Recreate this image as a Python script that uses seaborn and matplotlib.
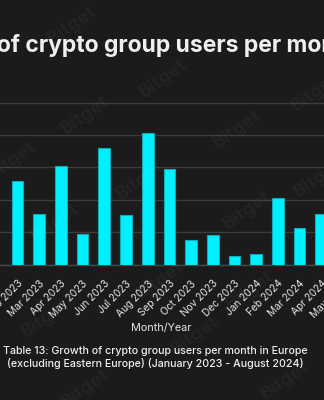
import matplotlib
matplotlib.use("Agg")
import matplotlib.pyplot as plt
import seaborn as sns
import pandas as pd

# Monthly growth of crypto group users (Europe, excl. Eastern Europe)
months = ["Feb 2023", "Mar 2023", "Apr 2023", "May 2023", "Jun 2023",
          "Jul 2023", "Aug 2023", "Sep 2023", "Oct 2023", "Nov 2023",
          "Dec 2023", "Jan 2024", "Feb 2024", "Mar 2024", "Apr 2024",
          "May 2024"]
users = [1296, 782, 1517, 468, 1801, 761, 2032, 1481, 381, 458,
         128, 165, 1029, 566, 772, 900]
y_ticks = [0, 500, 1000, 1500, 2000, 2500]

title = "Growth of crypto group users per month"
caption = ("Table 13: Growth of crypto group users per month in Europe\n"
           "(excluding Eastern Europe) (January 2023 - August 2024)")
watermark = "Bitget"
# watermark centres in canvas pixels (x, y from top)
wm_spots = [(72, 25), (163, 78), (315, 92), (85, 115), (237, 129),
            (12, 160), (140, 180), (55, 222), (247, 210), (318, 178),
            (160, 280), (250, 290), (45, 318), (195, 335), (85, 388),
            (285, 380)]

BG = "#1b1b1b"
BAR = "#00f0ff"
EDGE = "#14a9b6"
GRID = "#3c3c3c"
TEXT = "#e6e6e6"

sns.set_theme(style="dark")
plt.rcParams["font.family"] = ["Inter", "DejaVu Sans"]

W, H, DPI = 324, 400, 100
fig = plt.figure(figsize=(W / DPI, H / DPI), dpi=DPI, facecolor=BG)

# Axes wider than the canvas; category spacing ~21.7 px, first bar at x=17.5 px
px_left, px_right = -30, 354
step_px = 21.7
first_px = 17.5
base_px = 135.5          # baseline, px from bottom
unit_px = 32.4 / 500     # px per user
ytop = 2600
ax_h = ytop * unit_px
ax = fig.add_axes([px_left / W, base_px / H,
                   (px_right - px_left) / W, ax_h / H])
ax.set_facecolor(BG)

df = pd.DataFrame({"Month": months, "Users": users})
sns.barplot(data=df, x="Month", y="Users", ax=ax, color=BAR,
            width=0.54, saturation=1, edgecolor=EDGE, linewidth=0.8,
            zorder=3)

ax.set_xlim((px_left - first_px) / step_px, (px_right - first_px) / step_px)
ax.set_ylim(0, ytop)
ax.set_yticks(y_ticks)
ax.yaxis.grid(True, color=GRID, linewidth=1.0, zorder=0)
ax.xaxis.grid(False)
ax.tick_params(axis="y", left=False, labelleft=False)
ax.tick_params(axis="x", bottom=False, pad=4, labelsize=7.3,
               labelcolor=TEXT)
for lab in ax.get_xticklabels():
    lab.set_rotation(45)
    lab.set_ha("right")
    lab.set_rotation_mode("anchor")
for s in ["top", "right", "left"]:
    ax.spines[s].set_visible(False)
ax.spines["bottom"].set_color("#474747")
ax.spines["bottom"].set_linewidth(1.0)
ax.set_ylabel("")
ax.set_xlabel("Month/Year", color=TEXT, fontsize=7.8)
ax.xaxis.label.set_va("center")
ax.xaxis.set_label_coords((161.5 - px_left) / (px_right - px_left),
                          ((H - 328) - base_px) / ax_h)

# Title: positioned so that "of" starts at the left edge of the canvas
renderer = fig.canvas.get_renderer()
probe = fig.text(0, 0, "Growth ", fontsize=16.5, fontweight="bold")
pw = probe.get_window_extent(renderer).width
probe.remove()
fig.text((-3 - pw) / W, 1 - 52 / H, title, fontsize=16.5,
         fontweight="bold", color="#efefef", ha="left", va="baseline")

fig.text(155 / W, 1 - 357.5 / H, caption, fontsize=7.7, color="#efefef",
         ha="center", va="center", linespacing=1.3, fontweight="medium")

# Faint tiled watermark over the whole canvas
for wx, wy in wm_spots:
    fig.text(wx / W, 1 - wy / H, watermark, fontsize=13.5, fontweight="bold",
             color="white", alpha=0.04, rotation=35, ha="center",
             va="center", zorder=10)

fig.savefig("out.png", dpi=DPI, facecolor=BG)
